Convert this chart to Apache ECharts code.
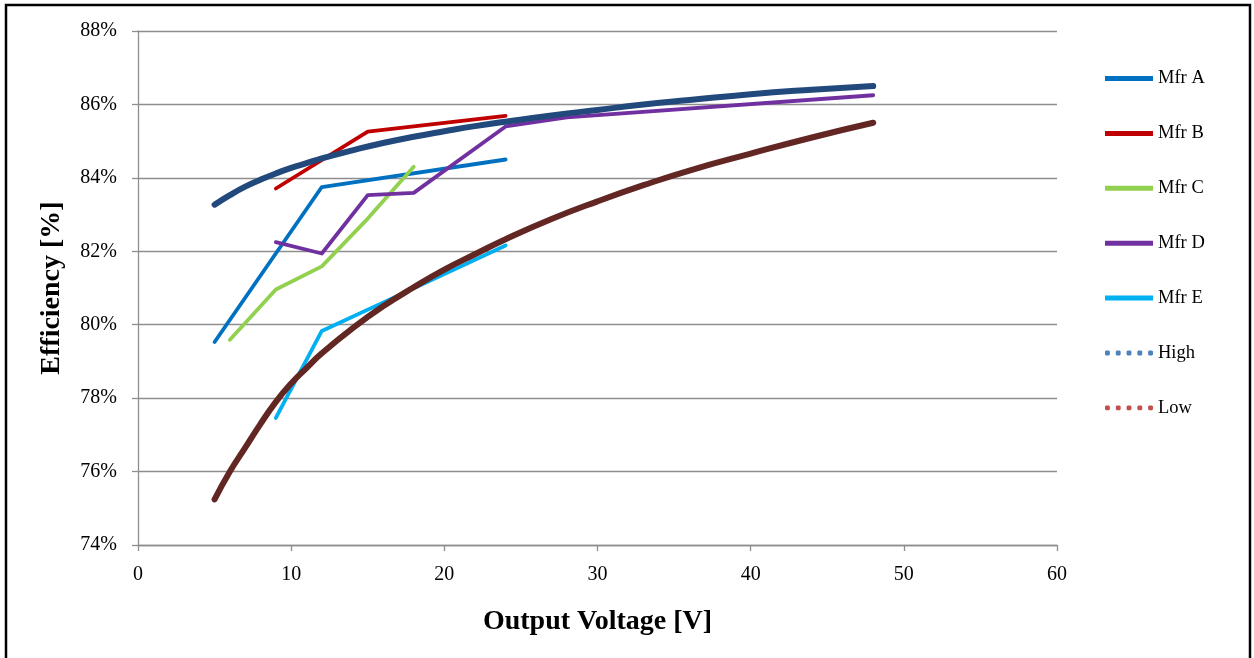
<!DOCTYPE html>
<html>
<head>
<meta charset="utf-8">
<style>
  html, body { margin: 0; padding: 0; background: #fff; }
  #chart { width: 1254px; height: 658px; }
</style>
<script src="https://cdn.jsdelivr.net/npm/echarts@6/dist/echarts.min.js"></script>
</head>
<body>
<div id="chart"></div>
<script>
// Measured efficiency per manufacturer (output voltage in V, efficiency in %)
const mfrA_V = [5, 12, 24];
const mfrA_Eff = [79.53, 83.75, 84.50];
const mfrB_V = [9, 15, 24];
const mfrB_Eff = [83.71, 85.26, 85.69];
const mfrC_V = [6, 9, 12, 15, 18];
const mfrC_Eff = [79.59, 80.96, 81.59, 82.89, 84.30];
const mfrD_V = [9, 12, 15, 18, 24, 28, 48];
const mfrD_Eff = [82.25, 81.94, 83.53, 83.59, 85.40, 85.65, 86.25];
const mfrE_V = [9, 12, 18, 24];
const mfrE_Eff = [77.46, 79.83, 80.99, 82.16];

// Upper and lower envelope curves
const trendV = [5, 6, 7, 8, 9, 10, 11, 12, 14, 16, 18, 20, 22, 24, 27, 30, 33, 36, 40, 44, 48];
const highEff = [83.27, 83.53, 83.76, 83.95, 84.12, 84.27, 84.40, 84.53, 84.75, 84.95, 85.12, 85.27, 85.41, 85.53, 85.70, 85.85, 86.00, 86.12, 86.28, 86.40, 86.50];
const lowEff = [75.24, 76.00, 76.65, 77.30, 77.90, 78.40, 78.82, 79.22, 79.90, 80.50, 81.02, 81.50, 81.92, 82.33, 82.88, 83.36, 83.80, 84.20, 84.66, 85.10, 85.50];

// Axis ticks
const xTicks = { min: 0, max: 60, interval: 10 };
const yTicks = { min: 74, max: 88, interval: 2 };

const seriesNames = ['Mfr A', 'Mfr B', 'Mfr C', 'Mfr D', 'Mfr E', 'High', 'Low'];

function pairs(xs, ys) { return xs.map((x, i) => [x, ys[i]]); }

const serif = '"Liberation Serif", "Times New Roman", serif';
const gridGray = '#8e8e8e';

// Legend glyphs: a solid bar for measured series, five dots for envelopes
const barIcon = 'path://M0,0h48v5h-48z';
const dotIcon = 'path://' + [0, 11, 22, 33, 44].map(x =>
  'M' + (x + 1) + ',0h3l1,1v3l-1,1h-3l-1,-1v-3z').join('');

function mfrSeries(name, xs, ys, color) {
  return {
    name: name, type: 'line', data: pairs(xs, ys),
    symbol: 'none', color: color,
    lineStyle: { width: 3.8, color: color, cap: 'round', join: 'round' },
    z: 2
  };
}
function trendSeries(name, ys, color) {
  return {
    name: name, type: 'line', data: pairs(trendV, ys),
    symbol: 'none', smooth: true, color: color,
    lineStyle: { width: 6, color: color, cap: 'round' },
    z: 3
  };
}

const chart = echarts.init(document.getElementById('chart'), null, { renderer: 'canvas' });
chart.setOption({
  animation: false,
  backgroundColor: '#fff',
  textStyle: { fontFamily: serif },
  grid: { left: 138, right: 197, top: 31, bottom: 113, containLabel: false },
  xAxis: {
    type: 'value', min: xTicks.min, max: xTicks.max, interval: xTicks.interval,
    name: 'Output Voltage [V]', nameLocation: 'middle', nameGap: 63,
    nameTextStyle: { fontFamily: serif, fontSize: 28, fontWeight: 'bold', color: '#000' },
    axisLine: { show: true, lineStyle: { color: gridGray, width: 1.3 } },
    axisTick: { show: true, length: 6, lineStyle: { color: gridGray, width: 1.3 } },
    axisLabel: { margin: 20, fontFamily: serif, fontSize: 20, color: '#000' },
    splitLine: { show: false }
  },
  yAxis: {
    type: 'value', min: yTicks.min, max: yTicks.max, interval: yTicks.interval,
    name: 'Efficiency [%]', nameLocation: 'middle', nameGap: 72,
    nameTextStyle: { fontFamily: serif, fontSize: 28, fontWeight: 'bold', color: '#000' },
    axisLine: { show: true, lineStyle: { color: gridGray, width: 1.3 } },
    axisTick: { show: true, length: 6, lineStyle: { color: gridGray, width: 1.3 } },
    axisLabel: { margin: 21, fontFamily: serif, fontSize: 20, color: '#000', formatter: '{value}%' },
    splitLine: { show: true, lineStyle: { color: gridGray, width: 1.3 } }
  },
  legend: {
    orient: 'vertical', left: 1100, top: 64, padding: 5,
    itemWidth: 48, itemHeight: 14, itemGap: 35.9,
    textStyle: { fontFamily: serif, fontSize: 18.5, color: '#000', lineHeight: 18 },
    data: [
      { name: 'Mfr A', icon: barIcon, itemStyle: { color: '#0070C0' } },
      { name: 'Mfr B', icon: barIcon, itemStyle: { color: '#C00000' } },
      { name: 'Mfr C', icon: barIcon, itemStyle: { color: '#92D050' } },
      { name: 'Mfr D', icon: barIcon, itemStyle: { color: '#7030A0' } },
      { name: 'Mfr E', icon: barIcon, itemStyle: { color: '#00B0F0' } },
      { name: 'High', icon: dotIcon, itemStyle: { color: '#4F81BD' } },
      { name: 'Low', icon: dotIcon, itemStyle: { color: '#C0504D' } }
    ]
  },
  graphic: [{
    type: 'rect', silent: true, z: 100,
    shape: { x: 6, y: 5, width: 1244, height: 700 },
    style: { fill: 'none', stroke: '#000', lineWidth: 2.5 }
  }],
  series: [
    mfrSeries(seriesNames[0], mfrA_V, mfrA_Eff, '#0070C0'),
    mfrSeries(seriesNames[1], mfrB_V, mfrB_Eff, '#C00000'),
    mfrSeries(seriesNames[2], mfrC_V, mfrC_Eff, '#92D050'),
    mfrSeries(seriesNames[3], mfrD_V, mfrD_Eff, '#7030A0'),
    mfrSeries(seriesNames[4], mfrE_V, mfrE_Eff, '#00B0F0'),
    trendSeries(seriesNames[5], highEff, '#22497C'),
    trendSeries(seriesNames[6], lowEff, '#622623')
  ]
});
</script>
</body>
</html>
